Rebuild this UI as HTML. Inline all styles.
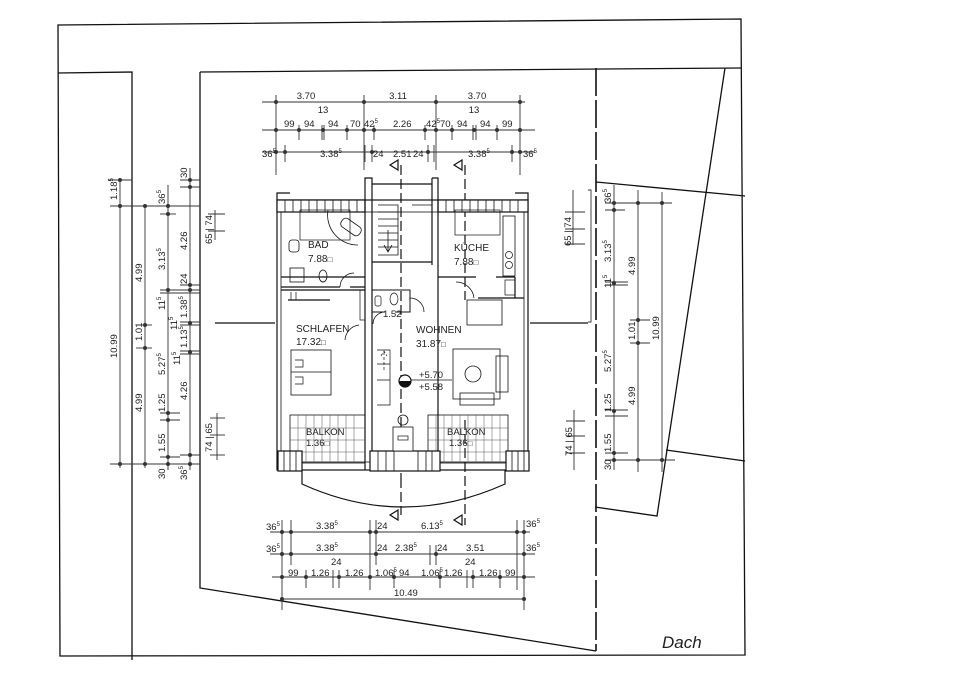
<!DOCTYPE html>
<html><head><meta charset="utf-8"><style>
html,body{margin:0;padding:0;background:#fff;}
svg{display:block;}
text{font-family:"Liberation Sans",sans-serif;fill:#222;}
</style></head><body>
<svg width="960" height="679" viewBox="0 0 960 679" xmlns="http://www.w3.org/2000/svg">
<rect width="960" height="679" fill="#fff"/>
<g stroke="#111" fill="none" stroke-width="1.3">
<!-- outer frame -->
<path d="M58 25 L741 19 L745 655 L60 656 Z"/>
<path d="M58 73 L132 72 L132 660"/>
<path d="M200 72 L741 68"/>
<path d="M200 72 L200 588 L596 651"/>
<path d="M596 68 L596 651" stroke-dasharray="28 4" stroke-width="1.6"/>
<path d="M725 68 L657 516 L595 507"/>
<path d="M596 182 L745 196"/>
<path d="M666 450 L745 461"/>
</g>

<!-- dimension lines -->
<g stroke="#333" stroke-width="0.9" fill="none">
<!-- top -->
<line x1="262" y1="102" x2="525" y2="102"/>
<line x1="262" y1="130" x2="535" y2="130"/>
<line x1="262" y1="152" x2="535" y2="152"/>
<g>
<line x1="276" y1="95" x2="276" y2="175"/><line x1="364" y1="95" x2="364" y2="170"/>
<line x1="436" y1="95" x2="436" y2="170"/><line x1="520" y1="95" x2="520" y2="175"/>
<line x1="299" y1="125" x2="299" y2="140"/><line x1="322" y1="125" x2="322" y2="140"/><line x1="324" y1="125" x2="324" y2="140"/>
<line x1="347" y1="125" x2="347" y2="140"/><line x1="374" y1="125" x2="374" y2="140"/><line x1="425" y1="125" x2="425" y2="140"/>
<line x1="452" y1="125" x2="452" y2="140"/><line x1="473" y1="125" x2="473" y2="140"/><line x1="476" y1="125" x2="476" y2="140"/>
<line x1="497" y1="125" x2="497" y2="140"/>
<line x1="285" y1="145" x2="285" y2="162"/><line x1="365" y1="145" x2="365" y2="162"/><line x1="372" y1="145" x2="372" y2="162"/>
<line x1="428" y1="145" x2="428" y2="162"/><line x1="434" y1="145" x2="434" y2="162"/><line x1="512" y1="145" x2="512" y2="162"/>
</g>
<!-- bottom -->
<line x1="270" y1="532" x2="530" y2="532"/>
<line x1="270" y1="554" x2="535" y2="554"/>
<line x1="272" y1="577" x2="535" y2="577"/>
<line x1="282" y1="599" x2="525" y2="599"/>
<line x1="282" y1="520" x2="282" y2="610"/><line x1="291" y1="520" x2="291" y2="565"/>
<line x1="370" y1="520" x2="370" y2="590"/><line x1="376" y1="520" x2="376" y2="565"/>
<line x1="430" y1="545" x2="430" y2="565"/><line x1="436" y1="545" x2="436" y2="565"/>
<line x1="517" y1="520" x2="517" y2="590"/><line x1="524" y1="520" x2="524" y2="610"/>
<line x1="306" y1="570" x2="306" y2="588"/><line x1="333" y1="570" x2="333" y2="588"/><line x1="339" y1="570" x2="339" y2="588"/>
<line x1="394" y1="570" x2="394" y2="588"/><line x1="440" y1="570" x2="440" y2="588"/><line x1="467" y1="570" x2="467" y2="588"/>
<line x1="473" y1="570" x2="473" y2="588"/><line x1="500" y1="570" x2="500" y2="588"/>
<!-- left -->
<line x1="120" y1="178" x2="120" y2="468"/><line x1="145" y1="205" x2="145" y2="468"/>
<line x1="168" y1="185" x2="168" y2="470"/><line x1="190" y1="168" x2="190" y2="470"/>
<line x1="110" y1="206" x2="200" y2="206"/><line x1="110" y1="464" x2="200" y2="464"/>
<line x1="108" y1="180" x2="132" y2="180"/>
<line x1="160" y1="214" x2="176" y2="214"/><line x1="160" y1="290" x2="200" y2="290"/><line x1="160" y1="293" x2="200" y2="293"/>
<line x1="136" y1="325" x2="152" y2="325"/><line x1="136" y1="348" x2="152" y2="348"/>
<line x1="180" y1="285" x2="200" y2="285"/><line x1="180" y1="322" x2="200" y2="322"/><line x1="180" y1="325" x2="200" y2="325"/>
<line x1="180" y1="351" x2="200" y2="351"/><line x1="180" y1="354" x2="200" y2="354"/>
<line x1="160" y1="413" x2="180" y2="413"/><line x1="160" y1="420" x2="180" y2="420"/>
<line x1="160" y1="457" x2="180" y2="457"/><line x1="180" y1="455" x2="200" y2="455"/>
<line x1="180" y1="180" x2="200" y2="180"/><line x1="180" y1="187" x2="200" y2="187"/>
<line x1="215" y1="210" x2="215" y2="240"/><line x1="208" y1="214" x2="225" y2="214"/><line x1="208" y1="231" x2="225" y2="231"/>
<line x1="217" y1="413" x2="217" y2="460"/><line x1="210" y1="418" x2="225" y2="418"/><line x1="210" y1="435" x2="225" y2="435"/><line x1="210" y1="455" x2="225" y2="455"/>
<!-- right -->
<line x1="614" y1="185" x2="614" y2="470"/><line x1="638" y1="190" x2="638" y2="472"/><line x1="662" y1="192" x2="662" y2="472"/>
<line x1="605" y1="203" x2="672" y2="203"/><line x1="605" y1="460" x2="675" y2="460"/>
<line x1="605" y1="210" x2="625" y2="210"/><line x1="605" y1="282" x2="628" y2="282"/><line x1="605" y1="285" x2="628" y2="285"/>
<line x1="630" y1="320" x2="650" y2="320"/><line x1="630" y1="343" x2="650" y2="343"/>
<line x1="605" y1="410" x2="628" y2="410"/><line x1="605" y1="416" x2="628" y2="416"/><line x1="605" y1="453" x2="628" y2="453"/>
<line x1="573" y1="190" x2="573" y2="245"/><line x1="565" y1="212" x2="585" y2="212"/><line x1="565" y1="229" x2="585" y2="229"/><line x1="565" y1="244" x2="585" y2="244"/>
<line x1="574" y1="410" x2="574" y2="470"/><line x1="566" y1="421" x2="585" y2="421"/><line x1="566" y1="436" x2="585" y2="436"/><line x1="566" y1="453" x2="585" y2="453"/>
<path d="M588 190 L591 190 L591 322 L588 322"/>
</g>
<g fill="#333">
<circle cx="276" cy="102" r="2"/><circle cx="364" cy="102" r="2"/><circle cx="436" cy="102" r="2"/><circle cx="520" cy="102" r="2"/>
<circle cx="276" cy="130" r="2"/><circle cx="299" cy="130" r="2"/><circle cx="323" cy="130" r="2"/><circle cx="347" cy="130" r="2"/><circle cx="364" cy="130" r="2"/><circle cx="374" cy="130" r="2"/><circle cx="425" cy="130" r="2"/><circle cx="436" cy="130" r="2"/><circle cx="452" cy="130" r="2"/><circle cx="474" cy="130" r="2"/><circle cx="497" cy="130" r="2"/><circle cx="520" cy="130" r="2"/>
<circle cx="276" cy="152" r="2"/><circle cx="285" cy="152" r="2"/><circle cx="372" cy="152" r="2"/><circle cx="428" cy="152" r="2"/><circle cx="512" cy="152" r="2"/><circle cx="520" cy="152" r="2"/>
<circle cx="282" cy="532" r="2"/><circle cx="291" cy="532" r="2"/><circle cx="370" cy="532" r="2"/><circle cx="376" cy="532" r="2"/><circle cx="517" cy="532" r="2"/><circle cx="524" cy="532" r="2"/>
<circle cx="282" cy="554" r="2"/><circle cx="291" cy="554" r="2"/><circle cx="376" cy="554" r="2"/><circle cx="436" cy="554" r="2"/><circle cx="524" cy="554" r="2"/>
<circle cx="282" cy="577" r="2"/><circle cx="306" cy="577" r="2"/><circle cx="339" cy="577" r="2"/><circle cx="370" cy="577" r="2"/><circle cx="394" cy="577" r="2"/><circle cx="440" cy="577" r="2"/><circle cx="473" cy="577" r="2"/><circle cx="500" cy="577" r="2"/><circle cx="524" cy="577" r="2"/>
<circle cx="282" cy="599" r="2"/><circle cx="524" cy="599" r="2"/>
<circle cx="120" cy="180" r="2"/><circle cx="120" cy="206" r="2"/><circle cx="145" cy="206" r="2"/><circle cx="168" cy="206" r="2"/><circle cx="168" cy="214" r="2"/><circle cx="190" cy="180" r="2"/><circle cx="190" cy="187" r="2"/>
<circle cx="168" cy="290" r="2"/><circle cx="190" cy="285" r="2"/><circle cx="190" cy="290" r="2"/><circle cx="145" cy="325" r="2"/><circle cx="145" cy="348" r="2"/><circle cx="190" cy="323" r="2"/><circle cx="190" cy="352" r="2"/>
<circle cx="168" cy="413" r="2"/><circle cx="168" cy="420" r="2"/><circle cx="168" cy="457" r="2"/><circle cx="190" cy="455" r="2"/><circle cx="120" cy="464" r="2"/><circle cx="145" cy="464" r="2"/><circle cx="168" cy="464" r="2"/><circle cx="190" cy="464" r="2"/>
<circle cx="614" cy="203" r="2"/><circle cx="638" cy="203" r="2"/><circle cx="662" cy="203" r="2"/><circle cx="614" cy="210" r="2"/><circle cx="614" cy="283" r="2"/><circle cx="638" cy="320" r="2"/><circle cx="638" cy="343" r="2"/><circle cx="614" cy="411" r="2"/><circle cx="614" cy="453" r="2"/><circle cx="614" cy="460" r="2"/><circle cx="638" cy="460" r="2"/><circle cx="662" cy="460" r="2"/>
</g>

<!-- dimension text -->
<g font-size="9.5">
<text x="306" y="99" text-anchor="middle">3.70</text><text x="398" y="99" text-anchor="middle">3.11</text><text x="477" y="99" text-anchor="middle">3.70</text>
<text x="323" y="113" text-anchor="middle">13</text><text x="474" y="113" text-anchor="middle">13</text>
<text x="284" y="127">99</text><text x="304" y="127">94</text><text x="328" y="127">94</text><text x="350" y="127">70</text><text x="364" y="127">42<tspan font-size="6" dy="-4">5</tspan></text>
<text x="393" y="127">2.26</text><text x="426" y="127">42<tspan font-size="6" dy="-4">5</tspan></text><text x="440" y="127">70</text><text x="457" y="127">94</text><text x="480" y="127">94</text><text x="502" y="127">99</text>
<text x="262" y="157">36<tspan font-size="6" dy="-4">5</tspan></text><text x="320" y="157">3.38<tspan font-size="6" dy="-4">5</tspan></text>
<text x="373" y="157">24</text><text x="393" y="157">2.51</text><text x="413" y="157">24</text>
<text x="468" y="157">3.38<tspan font-size="6" dy="-4">5</tspan></text><text x="523" y="157">36<tspan font-size="6" dy="-4">5</tspan></text>
<text x="266" y="530">36<tspan font-size="6" dy="-4">5</tspan></text><text x="316" y="529">3.38<tspan font-size="6" dy="-4">5</tspan></text><text x="377" y="529">24</text><text x="421" y="529">6.13<tspan font-size="6" dy="-4">5</tspan></text><text x="526" y="527">36<tspan font-size="6" dy="-4">5</tspan></text>
<text x="266" y="552">36<tspan font-size="6" dy="-4">5</tspan></text><text x="316" y="551">3.38<tspan font-size="6" dy="-4">5</tspan></text><text x="377" y="551">24</text><text x="395" y="551">2.38<tspan font-size="6" dy="-4">5</tspan></text><text x="437" y="551">24</text><text x="466" y="551">3.51</text><text x="526" y="551">36<tspan font-size="6" dy="-4">5</tspan></text>
<text x="288" y="576">99</text><text x="311" y="576">1.26</text><text x="331" y="565">24</text><text x="345" y="576">1.26</text><text x="375" y="576">1.06<tspan font-size="6" dy="-4">5</tspan></text><text x="399" y="576">94</text><text x="421" y="576">1.06<tspan font-size="6" dy="-4">5</tspan></text><text x="444" y="576">1.26</text><text x="465" y="565">24</text><text x="479" y="576">1.26</text><text x="505" y="576">99</text>
<text x="394" y="596">10.49</text>
</g>
<g font-size="9.5">
<text transform="translate(117,200) rotate(-90)">1.18<tspan font-size="6" dy="-4">5</tspan></text>
<text transform="translate(117,358) rotate(-90)">10.99</text>
<text transform="translate(142,282) rotate(-90)">4.99</text>
<text transform="translate(142,341) rotate(-90)">1.01</text>
<text transform="translate(142,412) rotate(-90)">4.99</text>
<text transform="translate(165,204) rotate(-90)">36<tspan font-size="6" dy="-4">5</tspan></text>
<text transform="translate(165,270) rotate(-90)">3.13<tspan font-size="6" dy="-4">5</tspan></text>
<text transform="translate(165,310) rotate(-90)">11<tspan font-size="6" dy="-4">5</tspan></text>
<text transform="translate(165,375) rotate(-90)">5.27<tspan font-size="6" dy="-4">5</tspan></text>
<text transform="translate(165,412) rotate(-90)">1.25</text>
<text transform="translate(165,452) rotate(-90)">1.55</text>
<text transform="translate(165,479) rotate(-90)">30</text>
<text transform="translate(187,480) rotate(-90)">36<tspan font-size="6" dy="-4">5</tspan></text>
<text transform="translate(187,178) rotate(-90)">30</text>
<text transform="translate(187,250) rotate(-90)">4.26</text>
<text transform="translate(187,284) rotate(-90)">24</text>
<text transform="translate(187,318) rotate(-90)">1.38<tspan font-size="6" dy="-4">5</tspan></text>
<text transform="translate(177,330) rotate(-90)">11<tspan font-size="6" dy="-4">5</tspan></text>
<text transform="translate(187,348) rotate(-90)">1.13<tspan font-size="6" dy="-4">5</tspan></text>
<text transform="translate(180,365) rotate(-90)">11<tspan font-size="6" dy="-4">5</tspan></text>
<text transform="translate(187,400) rotate(-90)">4.26</text>
<text transform="translate(212,244) rotate(-90)">65 | 74</text>
<text transform="translate(212,452) rotate(-90)">74 | 65</text>
<text transform="translate(611,203) rotate(-90)">36<tspan font-size="6" dy="-4">5</tspan></text>
<text transform="translate(611,262) rotate(-90)">3.13<tspan font-size="6" dy="-4">5</tspan></text>
<text transform="translate(611,288) rotate(-90)">11<tspan font-size="6" dy="-4">5</tspan></text>
<text transform="translate(611,372) rotate(-90)">5.27<tspan font-size="6" dy="-4">5</tspan></text>
<text transform="translate(611,412) rotate(-90)">1.25</text>
<text transform="translate(611,452) rotate(-90)">1.55</text>
<text transform="translate(611,470) rotate(-90)">30</text>
<text transform="translate(635,275) rotate(-90)">4.99</text>
<text transform="translate(635,340) rotate(-90)">1.01</text>
<text transform="translate(635,405) rotate(-90)">4.99</text>
<text transform="translate(659,340) rotate(-90)">10.99</text>
<text transform="translate(571,246) rotate(-90)">65 | 74</text>
<text transform="translate(572,456) rotate(-90)">74 | 65</text>
</g>

<!-- section markers -->
<g stroke="#111" stroke-width="1.2" fill="none">
<line x1="401" y1="165" x2="401" y2="478" stroke-dasharray="10 4"/>
<line x1="465" y1="165" x2="465" y2="300" stroke-dasharray="10 4"/>
<line x1="401" y1="478" x2="401" y2="515" stroke-dasharray="10 4"/>
<line x1="465" y1="420" x2="465" y2="525" stroke-dasharray="10 4"/>
<path d="M398 160 L390 165 L398 170 Z"/><path d="M462 160 L454 165 L462 170 Z"/>
<path d="M398 510 L390 515 L398 520 Z"/><path d="M462 515 L454 520 L462 525 Z"/>
<line x1="215" y1="323" x2="275" y2="323"/><line x1="530" y1="323" x2="588" y2="323"/>
</g>

<!-- building -->
<g stroke="#111" fill="none" stroke-width="1.2">
<!-- outer walls -->
<rect x="277" y="200" width="251" height="270"/>
<rect x="281" y="212" width="243" height="250" stroke-width="0.8"/>
<path d="M277 200 L277 193 L290 193 M528 200 L528 193 L515 193"/>
<!-- rafter band top -->
<rect x="277" y="200" width="88" height="12" fill="#fff"/>
<rect x="438" y="200" width="90" height="12" fill="#fff"/>
<path d="M285 200v12M293 200v12M301 200v12M309 200v12M317 200v12M325 200v12M333 200v12M341 200v12M349 200v12M357 200v12M446 200v12M454 200v12M462 200v12M470 200v12M478 200v12M486 200v12M494 200v12M502 200v12M510 200v12M518 200v12" stroke-width="0.8"/>
<!-- stair core -->
<path d="M365 470 L365 178 L372 178 L372 470" />
<path d="M372 184 L432 184 M432 178 L438 178 L438 470 M432 178 L432 265"/>
<path d="M372 262 L432 262"/>
<path d="M378 205 L398 205 L398 255 L378 255" stroke-width="0.8"/>
<path d="M378 212h20M378 219h20M378 226h20M378 233h20M378 240h20M378 247h20" stroke-width="0.7"/>
<path d="M384 245 L388 252 L392 245 M388 230 L388 252" stroke-width="0.8"/>
<path d="M412 205 L432 205" stroke-width="0.8"/>
<!-- bad -->
<path d="M281 277 L365 277 M281 287 L340 287 M350 287 L365 287" />
<path d="M340 287 A14 14 0 0 1 354 273" stroke-width="0.8"/>
<rect x="300" y="210" width="50" height="30" stroke-width="0.7"/>
<path d="M328 210 A30 30 0 0 0 358 245" stroke-width="0.8"/>
<rect x="340" y="222" width="22" height="10" rx="4" transform="rotate(35 351 227)" stroke-width="0.8"/>
<rect x="289" y="240" width="10" height="12" rx="3" stroke-width="0.8"/>
<rect x="290" y="268" width="14" height="14" stroke-width="0.8"/>
<ellipse cx="323" cy="276" rx="4" ry="6" stroke-width="0.8"/>
<!-- kueche -->
<path d="M438 277 L476 277 M496 277 L515 277 M515 277 L515 298 M478 298 L524 298"/>
<path d="M456 282 A18 18 0 0 1 474 298" stroke-width="0.8"/>
<rect x="455" y="210" width="45" height="25" stroke-width="0.7"/>
<rect x="503" y="216" width="12" height="60" stroke-width="0.8"/>
<circle cx="509" cy="255" r="3.5" stroke-width="0.7"/><circle cx="509" cy="265" r="3.5" stroke-width="0.7"/>
<rect x="505" y="280" width="10" height="15" stroke-width="0.7"/>
<!-- schlafen -->
<path d="M281 290 L365 290 M288 300 L330 300"/>
<path d="M291 292 L291 300 M296 292 L296 300" stroke-width="0.7"/>
<rect x="360" y="290" width="5" height="30" stroke-width="0.7"/>
<path d="M359 325 A16 16 0 0 0 345 340" stroke-width="0.8"/>
<rect x="291" y="350" width="40" height="45" stroke-width="0.8"/>
<path d="M291 372 L331 372 M295 360 L303 360 L303 367 L295 367 M295 377 L303 377 L303 384 L295 384" stroke-width="0.7"/>
<!-- WC -->
<path d="M372 290 L410 290 L410 312 L395 312 M385 312 L372 312" stroke-width="1"/>
<ellipse cx="394" cy="299" rx="4" ry="6" stroke-width="0.7"/>
<rect x="375" y="296" width="6" height="10" rx="2" stroke-width="0.7"/>
<path d="M385 312 A12 12 0 0 0 373 324" stroke-width="0.8"/>
<path d="M410 298 A14 14 0 0 1 424 312" stroke-width="0.8"/>
<!-- wohnen -->
<rect x="467" y="300" width="35" height="25" stroke-width="0.8"/>
<rect x="453" y="349" width="47" height="50" stroke-width="0.8"/>
<circle cx="473" cy="374" r="8" stroke-width="0.8"/>
<rect x="496" y="356" width="12" height="36" stroke-width="0.8"/>
<rect x="460" y="393" width="34" height="12" stroke-width="0.8"/>
<path d="M377 350 L390 350 L390 405 L377 405 M377 364 L390 364 M377 380 L390 380" stroke-width="0.7"/>
<path d="M384 352 L384 370 M381 356 L384 351 L387 356" stroke-width="0.7" stroke-dasharray="3 2"/>
<line x1="408" y1="380" x2="452" y2="380" stroke-width="0.8"/>
<!-- balconies -->
<rect x="290" y="415" width="75" height="48" stroke-width="0.8"/>
<rect x="428" y="415" width="80" height="48" stroke-width="0.8"/>
<path d="M298 415v48M306 415v48M314 415v48M322 415v48M330 415v48M338 415v48M346 415v48M354 415v48M290 428h75M290 440h75M290 452h75 M436 415v48M444 415v48M452 415v48M460 415v48M468 415v48M476 415v48M484 415v48M492 415v48M500 415v48M428 428h80M428 440h80M428 452h80" stroke-width="0.5" stroke="#555"/>
<rect x="278" y="451" width="24" height="20" fill="#fff"/>
<path d="M284 451v20M290 451v20M296 451v20" stroke-width="0.8"/>
<rect x="370" y="451" width="70" height="20" fill="#fff"/>
<path d="M378 451v20M386 451v20M394 451v20M418 451v20M426 451v20M432 451v20" stroke-width="0.8"/>
<rect x="506" y="451" width="23" height="20" fill="#fff"/>
<path d="M512 451v20M518 451v20M524 451v20" stroke-width="0.8"/>
<rect x="393" y="427" width="20" height="24" stroke-width="0.8" fill="#fff"/>
<circle cx="403" cy="420" r="5" stroke-width="0.8"/>
<rect x="398" y="436" width="10" height="4" stroke-width="0.7"/>
<path d="M302 470 L302 484 Q403 530 505 484 L505 470"/>
</g>
<!-- level marker -->
<circle cx="405" cy="381" r="6" fill="#fff" stroke="#111" stroke-width="1.2"/>
<path d="M399 381 A6 6 0 0 0 411 381 Z" fill="#111"/>

<!-- room labels -->
<g font-size="10">
<text x="308" y="248">BAD</text><text x="308" y="262">7.88<tspan font-size="8">□</tspan></text>
<text x="454" y="251">KÜCHE</text><text x="454" y="265">7.88<tspan font-size="8">□</tspan></text>
<text x="296" y="332">SCHLAFEN</text><text x="296" y="345">17.32<tspan font-size="8">□</tspan></text>
<text x="416" y="333">WOHNEN</text><text x="416" y="347">31.87<tspan font-size="8">□</tspan></text>
<text x="383" y="317" font-size="9.5">1.52</text>
<text x="419" y="378" font-size="9.5">+5.70</text><text x="419" y="390" font-size="9.5">+5.58</text>
<text x="306" y="435" font-size="9.5">BALKON</text><text x="306" y="446" font-size="9.5">1.36<tspan font-size="8">□</tspan></text>
<text x="447" y="435" font-size="9.5">BALKON</text><text x="449" y="446" font-size="9.5">1.36<tspan font-size="8">□</tspan></text>
</g>
<text x="662" y="648" font-size="17" font-family="Liberation Serif, serif" font-style="italic">Dach</text>
</svg>
</body></html>
